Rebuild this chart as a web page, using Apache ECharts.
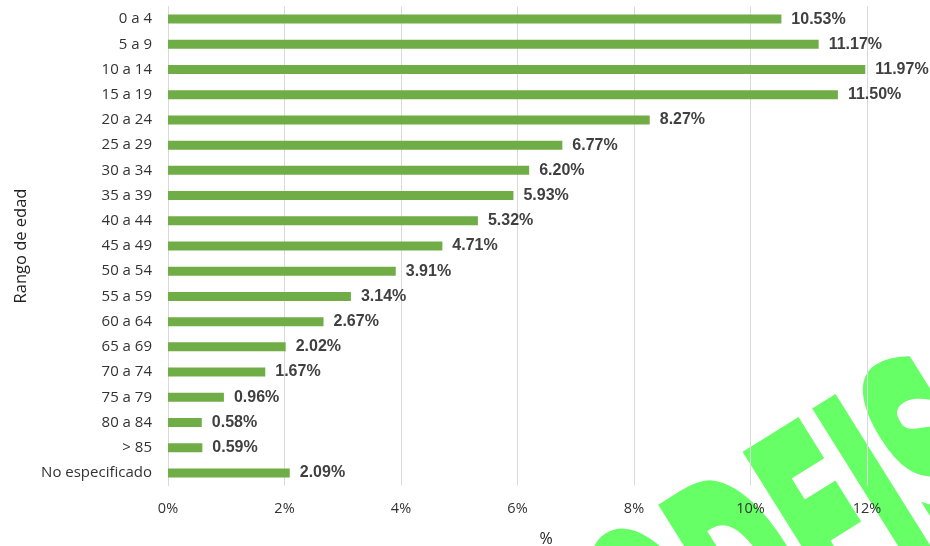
<!DOCTYPE html>
<html><head><meta charset="utf-8">
<script src="https://cdn.jsdelivr.net/npm/echarts@6/dist/echarts.min.js"></script>
<style>html,body{margin:0;padding:0;background:#fff}#c{width:930px;height:546px}</style>
</head><body><div id="c"></div>
<script>
const categories = ['0 a 4','5 a 9','10 a 14','15 a 19','20 a 24','25 a 29','30 a 34','35 a 39','40 a 44','45 a 49','50 a 54','55 a 59','60 a 64','65 a 69','70 a 74','75 a 79','80 a 84','> 85','No especificado'];
const values = [10.53,11.17,11.97,11.50,8.27,6.77,6.20,5.93,5.32,4.71,3.91,3.14,2.67,2.02,1.67,0.96,0.58,0.59,2.09];
const xTicks = [0,2,4,6,8,10,12];
const watermark = 'ODEIS';

const chart = echarts.init(document.getElementById('c'));
chart.setOption({
  animation:false,
  backgroundColor:'#fff',
  grid:{left:168,right:63,top:6.5,bottom:60.5,containLabel:false,outerBoundsMode:'none'},
  xAxis:{type:'value',min:xTicks[0],max:xTicks[xTicks.length-1],interval:2,
    name:'%',nameLocation:'middle',nameGap:46,
    nameTextStyle:{fontFamily:'Open Sans',fontSize:16,color:'#222',padding:[0,0,0,57]},
    axisLine:{show:false},axisTick:{show:false},
    splitLine:{lineStyle:{color:'#d9d9d9',width:1}},
    axisLabel:{formatter:'{value}%',fontFamily:'Open Sans',fontSize:14.5,color:'#333',margin:16}},
  yAxis:{type:'category',data:categories,inverse:true,
    name:'Rango de edad',nameLocation:'middle',nameGap:137,nameRotate:90,
    nameTextStyle:{fontFamily:'Open Sans',fontSize:16.5,color:'#222'},
    axisLine:{show:true,lineStyle:{color:'#d9d9d9'}},axisTick:{show:false},
    axisLabel:{fontFamily:'Open Sans',fontSize:15,color:'#333',margin:16}},
  series:[{type:'bar',data:values,barWidth:9,itemStyle:{color:'#70AD47'},
    label:{show:true,position:'right',distance:10,formatter:p=>p.value.toFixed(2)+'%',
      fontFamily:'Liberation Sans, Arial, sans-serif',fontWeight:'bold',fontSize:16,color:'#404040'}}],
  graphic:[{type:'text',x:633,y:673,rotation:32*Math.PI/180,scaleX:1,scaleY:2.2,z:-10,silent:true,
    style:{text:watermark,font:'bold 120px "DejaVu Sans"',fill:'#66FF66',stroke:'#66FF66',lineWidth:5,align:'left',verticalAlign:'middle'}}]
});
</script></body></html>
